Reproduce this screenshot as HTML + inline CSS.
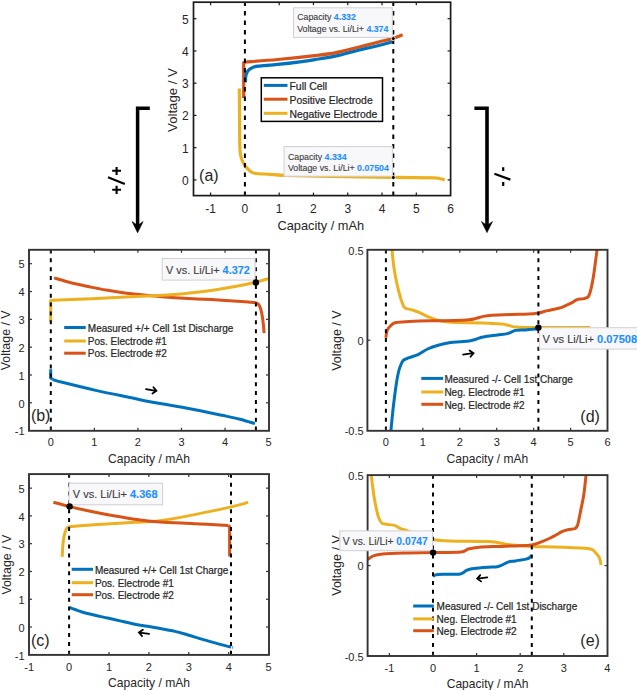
<!DOCTYPE html>
<html><head><meta charset="utf-8"><style>
html,body{margin:0;padding:0;background:#fff;}
svg{display:block;font-family:"Liberation Sans", sans-serif;}
text{stroke-width:0px;}
text.lg{stroke-width:0.22px;}
text.dt{stroke-width:0.12px;}
</style></head><body>
<svg width="637" height="690" viewBox="0 0 637 690">
<rect width="637" height="690" fill="#fff"/>
<clipPath id="ca"><rect x="193.5" y="2.2" width="257.1" height="193.4"/></clipPath>
<g clip-path="url(#ca)">
<path d="M239.3,88.6 C239.35,93.83 239.52,110.6 239.6,120 C239.68,129.4 239.63,139.17 239.8,145 C239.97,150.83 240.02,152.02 240.6,155 C241.18,157.98 241.92,160.4 243.3,162.9 C244.68,165.4 247.03,168.28 248.9,170 C250.77,171.72 250.98,172.48 254.5,173.2 C258.02,173.92 265.08,173.95 270,174.3 C274.92,174.65 274,174.97 284,175.3 C294,175.63 311.8,175.97 330,176.3 C348.2,176.63 375.87,177.03 393.2,177.3 C410.53,177.57 426.2,177.68 434,177.9 C441.8,178.12 438.22,178.27 440,178.6 C441.78,178.93 443.92,179.68 444.7,179.9" fill="none" stroke="#EDB120" stroke-width="3.2" stroke-linejoin="round"/>
<polyline points="243.7,98 243.7,62.8 245.5,62" fill="none" stroke="#D95319" stroke-width="3.2" stroke-linejoin="round" stroke-linecap="butt" />
<path d="M245.5,62 C250.87,61.58 266.12,60.57 277.7,59.5 C289.28,58.43 305.25,56.75 315,55.6 C324.75,54.45 329.13,53.95 336.2,52.6 C343.27,51.25 350.33,49.27 357.4,47.5 C364.47,45.73 372.72,43.52 378.6,42 C384.48,40.48 388.7,39.62 392.7,38.4 C396.7,37.18 400.95,35.32 402.6,34.7" fill="none" stroke="#D95319" stroke-width="3.2" stroke-linejoin="round"/>
<path d="M245.5,82.4 C245.55,81.33 245.47,77.82 245.8,76 C246.13,74.18 246.8,72.67 247.5,71.5 C248.2,70.33 249.15,69.68 250,69 C250.85,68.32 251.27,67.87 252.6,67.4 C253.93,66.93 253.82,66.7 258,66.2 C262.18,65.7 270.7,65.13 277.7,64.4 C284.7,63.67 293.78,62.6 300,61.8 C306.22,61 308.97,60.58 315,59.6 C321.03,58.62 329.13,57.42 336.2,55.9 C343.27,54.38 350.33,52.23 357.4,50.5 C364.47,48.77 372.72,46.97 378.6,45.5 C384.48,44.03 390.35,42.33 392.7,41.7" fill="none" stroke="#0072BD" stroke-width="3.2" stroke-linejoin="round"/>
</g>
<line x1="244.9" y1="2.2" x2="244.9" y2="195.6" stroke="#000" stroke-width="2" stroke-dasharray="4.5 5.0" stroke-dashoffset="0.6"/>
<line x1="393.3" y1="2.2" x2="393.3" y2="195.6" stroke="#000" stroke-width="2" stroke-dasharray="4.5 5.0" stroke-dashoffset="0.6"/>
<line x1="210.62" y1="195.6" x2="210.62" y2="192.6" stroke="#1a1a1a" stroke-width="1.2"/>
<line x1="210.62" y1="2.2" x2="210.62" y2="5.2" stroke="#1a1a1a" stroke-width="1.2"/>
<text x="210.62" y="212.9" font-size="12" text-anchor="middle" fill="#262626" stroke="#262626" font-weight="normal" >-1</text>
<line x1="244.9" y1="195.6" x2="244.9" y2="192.6" stroke="#1a1a1a" stroke-width="1.2"/>
<line x1="244.9" y1="2.2" x2="244.9" y2="5.2" stroke="#1a1a1a" stroke-width="1.2"/>
<text x="244.9" y="212.9" font-size="12" text-anchor="middle" fill="#262626" stroke="#262626" font-weight="normal" >0</text>
<line x1="279.18" y1="195.6" x2="279.18" y2="192.6" stroke="#1a1a1a" stroke-width="1.2"/>
<line x1="279.18" y1="2.2" x2="279.18" y2="5.2" stroke="#1a1a1a" stroke-width="1.2"/>
<text x="279.18" y="212.9" font-size="12" text-anchor="middle" fill="#262626" stroke="#262626" font-weight="normal" >1</text>
<line x1="313.46" y1="195.6" x2="313.46" y2="192.6" stroke="#1a1a1a" stroke-width="1.2"/>
<line x1="313.46" y1="2.2" x2="313.46" y2="5.2" stroke="#1a1a1a" stroke-width="1.2"/>
<text x="313.46" y="212.9" font-size="12" text-anchor="middle" fill="#262626" stroke="#262626" font-weight="normal" >2</text>
<line x1="347.74" y1="195.6" x2="347.74" y2="192.6" stroke="#1a1a1a" stroke-width="1.2"/>
<line x1="347.74" y1="2.2" x2="347.74" y2="5.2" stroke="#1a1a1a" stroke-width="1.2"/>
<text x="347.74" y="212.9" font-size="12" text-anchor="middle" fill="#262626" stroke="#262626" font-weight="normal" >3</text>
<line x1="382.02" y1="195.6" x2="382.02" y2="192.6" stroke="#1a1a1a" stroke-width="1.2"/>
<line x1="382.02" y1="2.2" x2="382.02" y2="5.2" stroke="#1a1a1a" stroke-width="1.2"/>
<text x="382.02" y="212.9" font-size="12" text-anchor="middle" fill="#262626" stroke="#262626" font-weight="normal" >4</text>
<line x1="416.3" y1="195.6" x2="416.3" y2="192.6" stroke="#1a1a1a" stroke-width="1.2"/>
<line x1="416.3" y1="2.2" x2="416.3" y2="5.2" stroke="#1a1a1a" stroke-width="1.2"/>
<text x="416.3" y="212.9" font-size="12" text-anchor="middle" fill="#262626" stroke="#262626" font-weight="normal" >5</text>
<text x="450.58" y="212.9" font-size="12" text-anchor="middle" fill="#262626" stroke="#262626" font-weight="normal" >6</text>
<line x1="193.5" y1="179.9" x2="196.5" y2="179.9" stroke="#1a1a1a" stroke-width="1.2"/>
<line x1="450.6" y1="179.9" x2="447.6" y2="179.9" stroke="#1a1a1a" stroke-width="1.2"/>
<text x="188.6" y="184.9" font-size="12" text-anchor="end" fill="#262626" stroke="#262626" font-weight="normal" >0</text>
<line x1="193.5" y1="147.66" x2="196.5" y2="147.66" stroke="#1a1a1a" stroke-width="1.2"/>
<line x1="450.6" y1="147.66" x2="447.6" y2="147.66" stroke="#1a1a1a" stroke-width="1.2"/>
<text x="188.6" y="152.66" font-size="12" text-anchor="end" fill="#262626" stroke="#262626" font-weight="normal" >1</text>
<line x1="193.5" y1="115.42" x2="196.5" y2="115.42" stroke="#1a1a1a" stroke-width="1.2"/>
<line x1="450.6" y1="115.42" x2="447.6" y2="115.42" stroke="#1a1a1a" stroke-width="1.2"/>
<text x="188.6" y="120.42" font-size="12" text-anchor="end" fill="#262626" stroke="#262626" font-weight="normal" >2</text>
<line x1="193.5" y1="83.18" x2="196.5" y2="83.18" stroke="#1a1a1a" stroke-width="1.2"/>
<line x1="450.6" y1="83.18" x2="447.6" y2="83.18" stroke="#1a1a1a" stroke-width="1.2"/>
<text x="188.6" y="88.18" font-size="12" text-anchor="end" fill="#262626" stroke="#262626" font-weight="normal" >3</text>
<line x1="193.5" y1="50.94" x2="196.5" y2="50.94" stroke="#1a1a1a" stroke-width="1.2"/>
<line x1="450.6" y1="50.94" x2="447.6" y2="50.94" stroke="#1a1a1a" stroke-width="1.2"/>
<text x="188.6" y="55.94" font-size="12" text-anchor="end" fill="#262626" stroke="#262626" font-weight="normal" >4</text>
<line x1="193.5" y1="18.7" x2="196.5" y2="18.7" stroke="#1a1a1a" stroke-width="1.2"/>
<line x1="450.6" y1="18.7" x2="447.6" y2="18.7" stroke="#1a1a1a" stroke-width="1.2"/>
<text x="188.6" y="23.7" font-size="12" text-anchor="end" fill="#262626" stroke="#262626" font-weight="normal" >5</text>
<rect x="193.5" y="2.2" width="257.1" height="193.4" fill="none" stroke="#1a1a1a" stroke-width="1.7"/>
<text x="320.8" y="230.2" font-size="12.8" text-anchor="middle" fill="#262626" stroke="#262626" font-weight="normal" >Capacity / mAh</text>
<text x="0" y="0" font-size="13.2" text-anchor="middle" fill="#262626" stroke="#262626" transform="translate(176.8,100) rotate(-90)">Voltage / V</text>
<rect x="261.3" y="77.8" width="121.2" height="43.6" fill="#fff" stroke="#000" stroke-width="1.5"/>
<line x1="263.8" y1="85.4" x2="287.5" y2="85.4" stroke="#0072BD" stroke-width="3"/>
<text x="289.5" y="89.74" font-size="10.4" text-anchor="start" fill="#262626" stroke="#262626" font-weight="normal" class="lg">Full Cell</text>
<line x1="263.8" y1="99.2" x2="287.5" y2="99.2" stroke="#D95319" stroke-width="3"/>
<text x="289.5" y="103.54" font-size="10.4" text-anchor="start" fill="#262626" stroke="#262626" font-weight="normal" class="lg">Positive Electrode</text>
<line x1="263.8" y1="113.3" x2="287.5" y2="113.3" stroke="#EDB120" stroke-width="3"/>
<text x="289.5" y="117.64" font-size="10.4" text-anchor="start" fill="#262626" stroke="#262626" font-weight="normal" class="lg">Negative Electrode</text>
<rect x="293.5" y="7.8" width="98.8" height="29.6" fill="#f8f8fb" stroke="#d0d0d4" stroke-width="1"/>
<text class="dt" x="297.2" y="20.4" font-size="8.8" fill="#3c3c3c" stroke="#3c3c3c">Capacity <tspan fill="#1e8fff" stroke="#1e8fff" font-weight="bold">4.332</tspan></text>
<text class="dt" x="297.2" y="31.7" font-size="8.8" fill="#3c3c3c" stroke="#3c3c3c">Voltage vs. Li/Li+ <tspan fill="#1e8fff" stroke="#1e8fff" font-weight="bold">4.374</tspan></text>
<circle cx="393.3" cy="38.6" r="2.0" fill="#000" stroke="#fff4d6" stroke-width="0.9"/>
<rect x="284.1" y="146.6" width="108.3" height="29.6" fill="#f8f8fb" stroke="#d0d0d4" stroke-width="1"/>
<text class="dt" x="287.9" y="159.8" font-size="8.8" fill="#3c3c3c" stroke="#3c3c3c">Capacity <tspan fill="#1e8fff" stroke="#1e8fff" font-weight="bold">4.334</tspan></text>
<text class="dt" x="287.9" y="170.7" font-size="8.8" fill="#3c3c3c" stroke="#3c3c3c">Voltage vs. Li/Li+ <tspan fill="#1e8fff" stroke="#1e8fff" font-weight="bold">0.07504</tspan></text>
<circle cx="393.3" cy="177.5" r="2.0" fill="#000" stroke="#fff4d6" stroke-width="0.9"/>
<text x="199.1" y="181.3" font-size="16" text-anchor="start" fill="#262626" stroke="#262626" font-weight="normal" >(a)</text>
<path d="M149.8,108.2 H137.6 V226" fill="none" stroke="#000" stroke-width="3.5"/>
<path d="M132.1,221.6 L137.6,232.8 L143.1,221.6 L137.6,225.5 Z" fill="#000" stroke="#000" stroke-width="0.6" stroke-linejoin="round"/>
<path d="M474.4,108.2 H487.0 V226" fill="none" stroke="#000" stroke-width="3.6"/>
<path d="M481.5,221.6 L487.0,232.6 L492.5,221.6 L487.0,225.5 Z" fill="#000" stroke="#000" stroke-width="0.6" stroke-linejoin="round"/>
<path d="M112.2,170.8 H121 M116.6,166.9 V175 M108,177.3 L124.8,183.9 M112.2,189.8 H121 M116.6,185.8 V193.9" fill="none" stroke="#000" stroke-width="2.1"/>
<path d="M503.2,167.3 V171 M494.4,173.8 L510.4,179.6 M503.2,181.9 V186.1" fill="none" stroke="#000" stroke-width="2.2"/>
<clipPath id="cb"><rect x="29.0" y="249.8" width="240.0" height="181.0"/></clipPath>
<g clip-path="url(#cb)">
<path d="M54.1,277.9 C55.98,278.45 61.08,280.05 65.4,281.2 C69.72,282.35 74.82,283.63 80,284.8 C85.18,285.97 92.13,287.32 96.5,288.2 C100.87,289.08 101.5,289.32 106.2,290.1 C110.9,290.88 119.6,292.2 124.7,292.9 C129.8,293.6 131.38,293.73 136.8,294.3 C142.22,294.87 150.83,295.72 157.2,296.3 C163.57,296.88 166,297.25 175,297.8 C184,298.35 199.53,298.95 211.2,299.6 C222.87,300.25 237.87,301.22 245,301.7 C252.13,302.18 251.92,302.18 254,302.5 C256.08,302.82 256.57,303.02 257.5,303.6 C258.43,304.18 258.98,304.8 259.6,306 C260.22,307.2 260.73,308.97 261.2,310.8 C261.67,312.63 262.05,314.8 262.4,317 C262.75,319.2 263.02,321.3 263.3,324 C263.58,326.7 263.97,331.67 264.1,333.2" fill="none" stroke="#D95319" stroke-width="3.0" stroke-linejoin="round"/>
<polyline points="50.7,322.2 50.7,300.4 52,300.2" fill="none" stroke="#EDB120" stroke-width="3.0" stroke-linejoin="round" stroke-linecap="butt" />
<path d="M52,300.2 C54.23,300.13 56.37,300.17 65.4,299.8 C74.43,299.43 92.6,298.65 106.2,298 C119.8,297.35 135.53,296.5 147,295.9 C158.47,295.3 164.3,295.32 175,294.4 C185.7,293.48 201.2,291.7 211.2,290.4 C221.2,289.1 227.58,287.97 235,286.6 C242.42,285.23 250.1,283.53 255.7,282.2 C261.3,280.87 266.45,279.2 268.6,278.6" fill="none" stroke="#EDB120" stroke-width="3.0" stroke-linejoin="round"/>
<polyline points="50.7,369.3 50.7,378 52.5,379.4" fill="none" stroke="#0072BD" stroke-width="3.0" stroke-linejoin="round" stroke-linecap="butt" />
<path d="M52.5,379.4 C54.13,379.88 54.92,380.43 62.3,382.3 C69.68,384.17 85.28,388.02 96.8,390.6 C108.32,393.18 122.53,395.95 131.4,397.8 C140.27,399.65 140.88,400 150,401.7 C159.12,403.4 174.07,405.73 186.1,408 C198.13,410.27 213.22,413.43 222.2,415.3 C231.18,417.17 234.55,417.82 240,419.2 C245.45,420.58 252.42,422.87 254.9,423.6" fill="none" stroke="#0072BD" stroke-width="3.0" stroke-linejoin="round"/>
</g>
<line x1="50.8" y1="249.8" x2="50.8" y2="430.8" stroke="#000" stroke-width="2" stroke-dasharray="4 4.85" stroke-dashoffset="0.3"/>
<line x1="255.9" y1="249.8" x2="255.9" y2="430.8" stroke="#000" stroke-width="2" stroke-dasharray="4 4.85" stroke-dashoffset="0.3"/>
<line x1="50.8" y1="430.8" x2="50.8" y2="427.8" stroke="#333333" stroke-width="1.2"/>
<line x1="50.8" y1="249.8" x2="50.8" y2="252.8" stroke="#333333" stroke-width="1.2"/>
<text x="50.8" y="446.2" font-size="11" text-anchor="middle" fill="#262626" stroke="#262626" font-weight="normal" >0</text>
<line x1="94.36" y1="430.8" x2="94.36" y2="427.8" stroke="#333333" stroke-width="1.2"/>
<line x1="94.36" y1="249.8" x2="94.36" y2="252.8" stroke="#333333" stroke-width="1.2"/>
<text x="94.36" y="446.2" font-size="11" text-anchor="middle" fill="#262626" stroke="#262626" font-weight="normal" >1</text>
<line x1="137.92" y1="430.8" x2="137.92" y2="427.8" stroke="#333333" stroke-width="1.2"/>
<line x1="137.92" y1="249.8" x2="137.92" y2="252.8" stroke="#333333" stroke-width="1.2"/>
<text x="137.92" y="446.2" font-size="11" text-anchor="middle" fill="#262626" stroke="#262626" font-weight="normal" >2</text>
<line x1="181.48" y1="430.8" x2="181.48" y2="427.8" stroke="#333333" stroke-width="1.2"/>
<line x1="181.48" y1="249.8" x2="181.48" y2="252.8" stroke="#333333" stroke-width="1.2"/>
<text x="181.48" y="446.2" font-size="11" text-anchor="middle" fill="#262626" stroke="#262626" font-weight="normal" >3</text>
<line x1="225.04" y1="430.8" x2="225.04" y2="427.8" stroke="#333333" stroke-width="1.2"/>
<line x1="225.04" y1="249.8" x2="225.04" y2="252.8" stroke="#333333" stroke-width="1.2"/>
<text x="225.04" y="446.2" font-size="11" text-anchor="middle" fill="#262626" stroke="#262626" font-weight="normal" >4</text>
<text x="268.6" y="446.2" font-size="11" text-anchor="middle" fill="#262626" stroke="#262626" font-weight="normal" >5</text>
<text x="24.6" y="435.36" font-size="11" text-anchor="end" fill="#262626" stroke="#262626" font-weight="normal" >-1</text>
<line x1="29" y1="402.8" x2="32" y2="402.8" stroke="#333333" stroke-width="1.2"/>
<line x1="269" y1="402.8" x2="266" y2="402.8" stroke="#333333" stroke-width="1.2"/>
<text x="24.6" y="407.54" font-size="11" text-anchor="end" fill="#262626" stroke="#262626" font-weight="normal" >0</text>
<line x1="29" y1="374.98" x2="32" y2="374.98" stroke="#333333" stroke-width="1.2"/>
<line x1="269" y1="374.98" x2="266" y2="374.98" stroke="#333333" stroke-width="1.2"/>
<text x="24.6" y="379.72" font-size="11" text-anchor="end" fill="#262626" stroke="#262626" font-weight="normal" >1</text>
<line x1="29" y1="347.16" x2="32" y2="347.16" stroke="#333333" stroke-width="1.2"/>
<line x1="269" y1="347.16" x2="266" y2="347.16" stroke="#333333" stroke-width="1.2"/>
<text x="24.6" y="351.9" font-size="11" text-anchor="end" fill="#262626" stroke="#262626" font-weight="normal" >2</text>
<line x1="29" y1="319.34" x2="32" y2="319.34" stroke="#333333" stroke-width="1.2"/>
<line x1="269" y1="319.34" x2="266" y2="319.34" stroke="#333333" stroke-width="1.2"/>
<text x="24.6" y="324.08" font-size="11" text-anchor="end" fill="#262626" stroke="#262626" font-weight="normal" >3</text>
<line x1="29" y1="291.52" x2="32" y2="291.52" stroke="#333333" stroke-width="1.2"/>
<line x1="269" y1="291.52" x2="266" y2="291.52" stroke="#333333" stroke-width="1.2"/>
<text x="24.6" y="296.26" font-size="11" text-anchor="end" fill="#262626" stroke="#262626" font-weight="normal" >4</text>
<line x1="29" y1="263.7" x2="32" y2="263.7" stroke="#333333" stroke-width="1.2"/>
<line x1="269" y1="263.7" x2="266" y2="263.7" stroke="#333333" stroke-width="1.2"/>
<text x="24.6" y="268.44" font-size="11" text-anchor="end" fill="#262626" stroke="#262626" font-weight="normal" >5</text>
<rect x="29" y="249.8" width="240" height="181" fill="none" stroke="#333333" stroke-width="1.9"/>
<text x="149" y="462.5" font-size="12.1" text-anchor="middle" fill="#262626" stroke="#262626" font-weight="normal" >Capacity / mAh</text>
<text x="0" y="0" font-size="12.4" text-anchor="middle" fill="#262626" stroke="#262626" transform="translate(10.2,340.35) rotate(-90)">Voltage / V</text>
<line x1="64.2" y1="327.5" x2="85.7" y2="327.5" stroke="#0072BD" stroke-width="3"/>
<text x="87.8" y="331.7" font-size="10" text-anchor="start" fill="#262626" stroke="#262626" font-weight="normal" class="lg">Measured +/+ Cell 1st Discharge</text>
<line x1="64.2" y1="341" x2="85.7" y2="341" stroke="#EDB120" stroke-width="3"/>
<text x="87.8" y="345.2" font-size="10" text-anchor="start" fill="#262626" stroke="#262626" font-weight="normal" class="lg">Pos. Electrode #1</text>
<line x1="64.2" y1="353.2" x2="85.7" y2="353.2" stroke="#D95319" stroke-width="3"/>
<text x="87.8" y="357.4" font-size="10" text-anchor="start" fill="#262626" stroke="#262626" font-weight="normal" class="lg">Pos. Electrode #2</text>
<rect x="162.2" y="258.5" width="92.9" height="21.6" fill="#f8f8fb" stroke="#d0d0d4" stroke-width="1"/>
<text class="dt" x="166" y="274.3" font-size="10.9" fill="#3c3c3c" stroke="#3c3c3c">V vs. Li/Li+ <tspan fill="#1e8fff" stroke="#1e8fff" font-weight="bold">4.372</tspan></text>
<circle cx="255.9" cy="282.4" r="3.2" fill="#000"/>
<path d="M146,389.2 L155.61,390.77 M153.46,387.23 L156.4,390.9 L152.45,393.44" fill="none" stroke="#000" stroke-width="1.8" stroke-linejoin="miter" stroke-linecap="round"/>
<text x="30.9" y="421.3" font-size="16" text-anchor="start" fill="#262626" stroke="#262626" font-weight="normal" >(b)</text>
<clipPath id="cc"><rect x="29.0" y="474.1" width="240.0" height="180.79999999999995"/></clipPath>
<g clip-path="url(#cc)">
<path d="M62.2,556.9 C62.3,555.08 62.57,548.98 62.8,546 C63.03,543.02 63.23,541.25 63.6,539 C63.97,536.75 64.5,534.23 65,532.5 C65.5,530.77 65.85,529.57 66.6,528.6 C67.35,527.63 67.27,527.17 69.5,526.7 C71.73,526.23 73.83,526.27 80,525.8 C86.17,525.33 97.38,524.48 106.5,523.9 C115.62,523.32 125.78,522.83 134.7,522.3 C143.62,521.77 150.03,521.98 160,520.7 C169.97,519.42 182.98,516.82 194.5,514.6 C206.02,512.38 220.17,509.43 229.1,507.4 C238.03,505.37 244.93,503.23 248.1,502.4" fill="none" stroke="#EDB120" stroke-width="3.0" stroke-linejoin="round"/>
<path d="M53.4,502.2 C55.97,502.9 63.03,504.97 68.8,506.4 C74.57,507.83 81.72,509.45 88,510.8 C94.28,512.15 98.72,513.1 106.5,514.5 C114.28,515.9 125.78,517.95 134.7,519.2 C143.62,520.45 150.03,521.25 160,522 C169.97,522.75 183.13,523.1 194.5,523.7 C205.87,524.3 222.58,525.28 228.2,525.6" fill="none" stroke="#D95319" stroke-width="3.0" stroke-linejoin="round"/>
<polyline points="228.2,525.6 229.6,526.5 229.6,556.5" fill="none" stroke="#D95319" stroke-width="3.0" stroke-linejoin="round" stroke-linecap="butt" />
<path d="M69.6,607.4 C70.5,607.75 72.93,608.73 75,609.5 C77.07,610.27 78.67,611.03 82,612 C85.33,612.97 90.73,614.3 95,615.3 C99.27,616.3 103.42,617.07 107.6,618 C111.78,618.93 115.92,619.95 120.1,620.9 C124.28,621.85 128.5,622.85 132.7,623.7 C136.9,624.55 141.12,625.27 145.3,626 C149.48,626.73 152.85,627.2 157.8,628.1 C162.75,629 170.07,630.28 175,631.4 C179.93,632.52 181.8,633.18 187.4,634.8 C193,636.42 201.55,639.1 208.6,641.1 C215.65,643.1 225.97,645.78 229.7,646.8 C233.43,647.82 230.78,647.13 231,647.2" fill="none" stroke="#0072BD" stroke-width="3.0" stroke-linejoin="round"/>
</g>
<line x1="69.1" y1="474.1" x2="69.1" y2="654.9" stroke="#000" stroke-width="2" stroke-dasharray="4 4.85" stroke-dashoffset="0.3"/>
<line x1="231" y1="474.1" x2="231" y2="654.9" stroke="#000" stroke-width="2" stroke-dasharray="4 4.85" stroke-dashoffset="0.3"/>
<text x="29.2" y="670.8" font-size="11" text-anchor="middle" fill="#262626" stroke="#262626" font-weight="normal" >-1</text>
<line x1="69.1" y1="654.9" x2="69.1" y2="651.9" stroke="#333333" stroke-width="1.2"/>
<line x1="69.1" y1="474.1" x2="69.1" y2="477.1" stroke="#333333" stroke-width="1.2"/>
<text x="69.1" y="670.8" font-size="11" text-anchor="middle" fill="#262626" stroke="#262626" font-weight="normal" >0</text>
<line x1="109" y1="654.9" x2="109" y2="651.9" stroke="#333333" stroke-width="1.2"/>
<line x1="109" y1="474.1" x2="109" y2="477.1" stroke="#333333" stroke-width="1.2"/>
<text x="109" y="670.8" font-size="11" text-anchor="middle" fill="#262626" stroke="#262626" font-weight="normal" >1</text>
<line x1="148.9" y1="654.9" x2="148.9" y2="651.9" stroke="#333333" stroke-width="1.2"/>
<line x1="148.9" y1="474.1" x2="148.9" y2="477.1" stroke="#333333" stroke-width="1.2"/>
<text x="148.9" y="670.8" font-size="11" text-anchor="middle" fill="#262626" stroke="#262626" font-weight="normal" >2</text>
<line x1="188.8" y1="654.9" x2="188.8" y2="651.9" stroke="#333333" stroke-width="1.2"/>
<line x1="188.8" y1="474.1" x2="188.8" y2="477.1" stroke="#333333" stroke-width="1.2"/>
<text x="188.8" y="670.8" font-size="11" text-anchor="middle" fill="#262626" stroke="#262626" font-weight="normal" >3</text>
<line x1="228.7" y1="654.9" x2="228.7" y2="651.9" stroke="#333333" stroke-width="1.2"/>
<line x1="228.7" y1="474.1" x2="228.7" y2="477.1" stroke="#333333" stroke-width="1.2"/>
<text x="228.7" y="670.8" font-size="11" text-anchor="middle" fill="#262626" stroke="#262626" font-weight="normal" >4</text>
<text x="268.6" y="670.8" font-size="11" text-anchor="middle" fill="#262626" stroke="#262626" font-weight="normal" >5</text>
<text x="24.6" y="659.51" font-size="11" text-anchor="end" fill="#262626" stroke="#262626" font-weight="normal" >-1</text>
<line x1="29" y1="627" x2="32" y2="627" stroke="#333333" stroke-width="1.2"/>
<line x1="269" y1="627" x2="266" y2="627" stroke="#333333" stroke-width="1.2"/>
<text x="24.6" y="631.74" font-size="11" text-anchor="end" fill="#262626" stroke="#262626" font-weight="normal" >0</text>
<line x1="29" y1="599.23" x2="32" y2="599.23" stroke="#333333" stroke-width="1.2"/>
<line x1="269" y1="599.23" x2="266" y2="599.23" stroke="#333333" stroke-width="1.2"/>
<text x="24.6" y="603.97" font-size="11" text-anchor="end" fill="#262626" stroke="#262626" font-weight="normal" >1</text>
<line x1="29" y1="571.46" x2="32" y2="571.46" stroke="#333333" stroke-width="1.2"/>
<line x1="269" y1="571.46" x2="266" y2="571.46" stroke="#333333" stroke-width="1.2"/>
<text x="24.6" y="576.2" font-size="11" text-anchor="end" fill="#262626" stroke="#262626" font-weight="normal" >2</text>
<line x1="29" y1="543.69" x2="32" y2="543.69" stroke="#333333" stroke-width="1.2"/>
<line x1="269" y1="543.69" x2="266" y2="543.69" stroke="#333333" stroke-width="1.2"/>
<text x="24.6" y="548.43" font-size="11" text-anchor="end" fill="#262626" stroke="#262626" font-weight="normal" >3</text>
<line x1="29" y1="515.92" x2="32" y2="515.92" stroke="#333333" stroke-width="1.2"/>
<line x1="269" y1="515.92" x2="266" y2="515.92" stroke="#333333" stroke-width="1.2"/>
<text x="24.6" y="520.66" font-size="11" text-anchor="end" fill="#262626" stroke="#262626" font-weight="normal" >4</text>
<line x1="29" y1="488.15" x2="32" y2="488.15" stroke="#333333" stroke-width="1.2"/>
<line x1="269" y1="488.15" x2="266" y2="488.15" stroke="#333333" stroke-width="1.2"/>
<text x="24.6" y="492.89" font-size="11" text-anchor="end" fill="#262626" stroke="#262626" font-weight="normal" >5</text>
<rect x="29" y="474.1" width="240" height="180.8" fill="none" stroke="#333333" stroke-width="1.9"/>
<text x="149" y="686.9" font-size="12.1" text-anchor="middle" fill="#262626" stroke="#262626" font-weight="normal" >Capacity / mAh</text>
<text x="0" y="0" font-size="12.4" text-anchor="middle" fill="#262626" stroke="#262626" transform="translate(10.6,564.65) rotate(-90)">Voltage / V</text>
<line x1="71.7" y1="569.3" x2="93" y2="569.3" stroke="#0072BD" stroke-width="3"/>
<text x="94.9" y="573.5" font-size="10" text-anchor="start" fill="#262626" stroke="#262626" font-weight="normal" class="lg">Measured +/+ Cell 1st Charge</text>
<line x1="71.7" y1="582.7" x2="93" y2="582.7" stroke="#EDB120" stroke-width="3"/>
<text x="94.9" y="586.9" font-size="10" text-anchor="start" fill="#262626" stroke="#262626" font-weight="normal" class="lg">Pos. Electrode #1</text>
<line x1="71.7" y1="594.7" x2="93" y2="594.7" stroke="#D95319" stroke-width="3"/>
<text x="94.9" y="598.9" font-size="10" text-anchor="start" fill="#262626" stroke="#262626" font-weight="normal" class="lg">Pos. Electrode #2</text>
<rect x="69" y="483.2" width="93.6" height="21.6" fill="#f8f8fb" stroke="#d0d0d4" stroke-width="1"/>
<text class="dt" x="72.8" y="498.2" font-size="11" fill="#3c3c3c" stroke="#3c3c3c">V vs. Li/Li+ <tspan fill="#1e8fff" stroke="#1e8fff" font-weight="bold">4.368</tspan></text>
<circle cx="69.6" cy="506.4" r="3.2" fill="#000"/>
<path d="M149.1,633.8 L139.79,632.6 M142.06,636.07 L139,632.5 L142.87,629.83" fill="none" stroke="#000" stroke-width="1.8" stroke-linejoin="miter" stroke-linecap="round"/>
<text x="30.9" y="645.5" font-size="16" text-anchor="start" fill="#262626" stroke="#262626" font-weight="normal" >(c)</text>
<clipPath id="cd"><rect x="367.4" y="249.8" width="240.10000000000002" height="181.0"/></clipPath>
<g clip-path="url(#cd)">
<path d="M391.8,248 C392.13,251.12 392.98,260.92 393.8,266.7 C394.62,272.48 395.62,277.62 396.7,282.7 C397.78,287.78 399.35,293.77 400.3,297.2 C401.25,300.63 401.78,301.68 402.4,303.3 C403.02,304.92 403.35,306.02 404,306.9 C404.65,307.78 404.75,308.05 406.3,308.6 C407.85,309.15 411.17,309.57 413.3,310.2 C415.43,310.83 416.68,311.32 419.1,312.4 C421.52,313.48 424.65,315.37 427.8,316.7 C430.95,318.03 434.85,319.55 438,320.4 C441.15,321.25 443.87,321.43 446.7,321.8 C449.53,322.17 448.92,322.42 455,322.6 C461.08,322.78 475.43,322.67 483.2,322.9 C490.97,323.13 497.35,323.58 501.6,324 C505.85,324.42 506.35,324.88 508.7,325.4 C511.05,325.92 512.88,326.75 515.7,327.1 C518.52,327.45 521.83,327.43 525.6,327.5 C529.37,327.57 527.57,327.5 538.3,327.5 C549.03,327.5 581.38,327.5 590,327.5" fill="none" stroke="#EDB120" stroke-width="3.0" stroke-linejoin="round"/>
<path d="M385.8,337.8 C386.03,336.58 386.35,332.57 387.2,330.5 C388.05,328.43 389.45,326.73 390.9,325.4 C392.35,324.07 392.88,323.15 395.9,322.5 C398.92,321.85 403.2,321.78 409,321.5 C414.8,321.22 423.03,320.95 430.7,320.8 C438.37,320.65 448.6,320.77 455,320.6 C461.4,320.43 465.57,320.17 469.1,319.8 C472.63,319.43 473.85,318.97 476.2,318.4 C478.55,317.83 480.62,316.92 483.2,316.4 C485.78,315.88 486.98,315.62 491.7,315.3 C496.42,314.98 505.38,314.7 511.5,314.5 C517.62,314.3 523.93,314.35 528.4,314.1 C532.87,313.85 535.53,313.47 538.3,313 C541.07,312.53 542.78,311.83 545,311.3 C547.22,310.77 548.8,310.47 551.6,309.8 C554.4,309.13 558.4,308.48 561.8,307.3 C565.2,306.12 569.55,303.95 572,302.7 C574.45,301.45 574.5,300.48 576.5,299.8 C578.5,299.12 582.02,299.15 584,298.6 C585.98,298.05 587.23,298.1 588.4,296.5 C589.57,294.9 590.15,292.42 591,289 C591.85,285.58 592.78,280.33 593.5,276 C594.22,271.67 594.67,267.67 595.3,263 C595.93,258.33 596.97,250.5 597.3,248" fill="none" stroke="#D95319" stroke-width="3.0" stroke-linejoin="round"/>
<path d="M390.7,433 C391.15,428.5 392.45,414.3 393.4,406 C394.35,397.7 395.55,388.87 396.4,383.2 C397.25,377.53 397.87,374.78 398.5,372 C399.13,369.22 399.4,368.43 400.2,366.5 C401,364.57 401.78,361.87 403.3,360.4 C404.82,358.93 406.77,358.72 409.3,357.7 C411.83,356.68 415.45,355.75 418.5,354.3 C421.55,352.85 424.32,350.52 427.6,349 C430.88,347.48 434.4,346.27 438.2,345.2 C442,344.13 446.77,343.17 450.4,342.6 C454.03,342.03 456.88,342.07 460,341.8 C463.12,341.53 466.43,341.43 469.1,341 C471.77,340.57 473.65,339.87 476,339.2 C478.35,338.53 479.63,337.7 483.2,337 C486.77,336.3 493.38,335.57 497.4,335 C501.42,334.43 504.25,334.37 507.3,333.6 C510.35,332.83 512.65,331.02 515.7,330.4 C518.75,329.78 521.83,330.18 525.6,329.9 C529.37,329.62 536.18,328.9 538.3,328.7" fill="none" stroke="#0072BD" stroke-width="3.0" stroke-linejoin="round"/>
</g>
<line x1="385.9" y1="249.8" x2="385.9" y2="430.8" stroke="#000" stroke-width="2" stroke-dasharray="4 4.85" stroke-dashoffset="0.3"/>
<line x1="538.4" y1="249.8" x2="538.4" y2="430.8" stroke="#000" stroke-width="2" stroke-dasharray="4 4.85" stroke-dashoffset="0.3"/>
<line x1="385.9" y1="430.8" x2="385.9" y2="427.8" stroke="#333333" stroke-width="1.2"/>
<line x1="385.9" y1="249.8" x2="385.9" y2="252.8" stroke="#333333" stroke-width="1.2"/>
<text x="385.9" y="446.4" font-size="11" text-anchor="middle" fill="#262626" stroke="#262626" font-weight="normal" >0</text>
<line x1="422.84" y1="430.8" x2="422.84" y2="427.8" stroke="#333333" stroke-width="1.2"/>
<line x1="422.84" y1="249.8" x2="422.84" y2="252.8" stroke="#333333" stroke-width="1.2"/>
<text x="422.84" y="446.4" font-size="11" text-anchor="middle" fill="#262626" stroke="#262626" font-weight="normal" >1</text>
<line x1="459.78" y1="430.8" x2="459.78" y2="427.8" stroke="#333333" stroke-width="1.2"/>
<line x1="459.78" y1="249.8" x2="459.78" y2="252.8" stroke="#333333" stroke-width="1.2"/>
<text x="459.78" y="446.4" font-size="11" text-anchor="middle" fill="#262626" stroke="#262626" font-weight="normal" >2</text>
<line x1="496.72" y1="430.8" x2="496.72" y2="427.8" stroke="#333333" stroke-width="1.2"/>
<line x1="496.72" y1="249.8" x2="496.72" y2="252.8" stroke="#333333" stroke-width="1.2"/>
<text x="496.72" y="446.4" font-size="11" text-anchor="middle" fill="#262626" stroke="#262626" font-weight="normal" >3</text>
<line x1="533.66" y1="430.8" x2="533.66" y2="427.8" stroke="#333333" stroke-width="1.2"/>
<line x1="533.66" y1="249.8" x2="533.66" y2="252.8" stroke="#333333" stroke-width="1.2"/>
<text x="533.66" y="446.4" font-size="11" text-anchor="middle" fill="#262626" stroke="#262626" font-weight="normal" >4</text>
<line x1="570.6" y1="430.8" x2="570.6" y2="427.8" stroke="#333333" stroke-width="1.2"/>
<line x1="570.6" y1="249.8" x2="570.6" y2="252.8" stroke="#333333" stroke-width="1.2"/>
<text x="570.6" y="446.4" font-size="11" text-anchor="middle" fill="#262626" stroke="#262626" font-weight="normal" >5</text>
<text x="607.54" y="446.4" font-size="11" text-anchor="middle" fill="#262626" stroke="#262626" font-weight="normal" >6</text>
<text x="363.6" y="435.34" font-size="11" text-anchor="end" fill="#262626" stroke="#262626" font-weight="normal" >-0.5</text>
<line x1="367.4" y1="340.2" x2="370.4" y2="340.2" stroke="#333333" stroke-width="1.2"/>
<line x1="607.5" y1="340.2" x2="604.5" y2="340.2" stroke="#333333" stroke-width="1.2"/>
<text x="363.6" y="344.94" font-size="11" text-anchor="end" fill="#262626" stroke="#262626" font-weight="normal" >0</text>
<text x="363.6" y="254.54" font-size="11" text-anchor="end" fill="#262626" stroke="#262626" font-weight="normal" >0.5</text>
<rect x="367.4" y="249.8" width="240.1" height="181" fill="none" stroke="#333333" stroke-width="1.9"/>
<text x="487.45" y="462.9" font-size="12.05" text-anchor="middle" fill="#262626" stroke="#262626" font-weight="normal" >Capacity / mAh</text>
<text x="0" y="0" font-size="12.5" text-anchor="middle" fill="#262626" stroke="#262626" transform="translate(340.8,340.6) rotate(-90)">Voltage / V</text>
<line x1="421.3" y1="378.4" x2="443.2" y2="378.4" stroke="#0072BD" stroke-width="3"/>
<text x="444.4" y="382.6" font-size="10" text-anchor="start" fill="#262626" stroke="#262626" font-weight="normal" class="lg">Measured -/- Cell 1st Charge</text>
<line x1="421.3" y1="392" x2="443.2" y2="392" stroke="#EDB120" stroke-width="3"/>
<text x="444.4" y="396.2" font-size="10" text-anchor="start" fill="#262626" stroke="#262626" font-weight="normal" class="lg">Neg. Electrode #1</text>
<line x1="421.3" y1="404.3" x2="443.2" y2="404.3" stroke="#D95319" stroke-width="3"/>
<text x="444.4" y="408.5" font-size="10" text-anchor="start" fill="#262626" stroke="#262626" font-weight="normal" class="lg">Neg. Electrode #2</text>
<rect x="539.3" y="327.7" width="110.7" height="21.4" fill="#f8f8fb" stroke="#d0d0d4" stroke-width="1"/>
<text class="dt" x="542.5" y="342.5" font-size="11.1" fill="#3c3c3c" stroke="#3c3c3c">V vs Li/Li+ <tspan fill="#1e8fff" stroke="#1e8fff" font-weight="bold">0.07508</tspan></text>
<circle cx="538.4" cy="327.6" r="3.2" fill="#000"/>
<path d="M463.1,354.7 L472.71,353.22 M469.57,350.52 L473.5,353.1 L470.53,356.74" fill="none" stroke="#000" stroke-width="1.8" stroke-linejoin="miter" stroke-linecap="round"/>
<text x="580.3" y="422.3" font-size="16" text-anchor="start" fill="#262626" stroke="#262626" font-weight="normal" >(d)</text>
<clipPath id="ce"><rect x="367.6" y="475.1" width="239.89999999999998" height="180.89999999999998"/></clipPath>
<g clip-path="url(#ce)">
<path d="M371,473 C371.5,476.9 372.98,489.88 374,496.4 C375.02,502.92 376.23,508.33 377.1,512.1 C377.97,515.87 378.42,517.17 379.2,519 C379.98,520.83 380.58,522.22 381.8,523.1 C383.02,523.98 384.4,523.92 386.5,524.3 C388.6,524.68 392.05,524.68 394.4,525.4 C396.75,526.12 398.52,527.73 400.6,528.6 C402.68,529.47 403.67,529.45 406.9,530.6 C410.13,531.75 415.68,534.03 420,535.5 C424.32,536.97 427.82,538.5 432.8,539.4 C437.78,540.3 440.58,540.55 449.9,540.9 C459.22,541.25 479.92,541.07 488.7,541.5 C497.48,541.93 499.12,542.95 502.6,543.5 C506.08,544.05 504.72,544.3 509.6,544.8 C514.48,545.3 524.45,546.15 531.9,546.5 C539.35,546.85 545.43,546.6 554.3,546.9 C563.17,547.2 578.77,547.83 585.1,548.3 C591.43,548.77 590.37,548.75 592.3,549.7 C594.23,550.65 595.48,552.55 596.7,554 C597.92,555.45 598.87,556.57 599.6,558.4 C600.33,560.23 600.85,563.9 601.1,565" fill="none" stroke="#EDB120" stroke-width="3.0" stroke-linejoin="round"/>
<path d="M367.7,559.5 C368.63,558.88 370.8,556.73 373.3,555.8 C375.8,554.87 377.37,554.37 382.7,553.9 C388.03,553.43 396.9,553.22 405.3,553 C413.7,552.78 423.8,552.78 433.1,552.6 C442.4,552.42 455.23,552.5 461.1,551.9 C466.97,551.3 465.28,549.78 468.3,549 C471.32,548.22 474.38,547.63 479.2,547.2 C484.02,546.77 491.18,546.62 497.2,546.4 C503.22,546.18 509.58,546.13 515.3,545.9 C521.02,545.67 527.37,545.58 531.5,545 C535.63,544.42 536.97,543.57 540.1,542.4 C543.23,541.23 547.65,539.23 550.3,538 C552.95,536.77 554.07,536.07 556,535 C557.93,533.93 559.95,532.48 561.9,531.6 C563.85,530.72 565.53,530.2 567.7,529.7 C569.87,529.2 573.38,529.13 574.9,528.6 C576.42,528.07 576.28,527.33 576.8,526.5 C577.32,525.67 577.35,526.25 578,523.6 C578.65,520.95 579.77,515.18 580.7,510.6 C581.63,506.02 582.85,500.7 583.6,496.1 C584.35,491.5 584.77,486.85 585.2,483 C585.63,479.15 586.03,474.67 586.2,473" fill="none" stroke="#D95319" stroke-width="3.0" stroke-linejoin="round"/>
<path d="M433.1,576.6 C433.55,576.3 434.15,575.2 435.8,574.8 C437.45,574.4 438.93,574.35 443,574.2 C447.07,574.05 456.28,574.55 460.2,573.9 C464.12,573.25 464.55,571.15 466.5,570.3 C468.45,569.45 469.78,569.2 471.9,568.8 C474.02,568.4 476.48,568.17 479.2,567.9 C481.92,567.63 485.2,567.4 488.2,567.2 C491.2,567 494.95,567.03 497.2,566.7 C499.45,566.37 499.9,565.97 501.7,565.2 C503.5,564.43 505.73,562.82 508,562.1 C510.27,561.38 512.28,561.4 515.3,560.9 C518.32,560.4 523.7,559.65 526.1,559.1 C528.5,558.55 528.8,558.23 529.7,557.6 C530.6,556.97 531.2,555.68 531.5,555.3" fill="none" stroke="#0072BD" stroke-width="3.0" stroke-linejoin="round"/>
</g>
<line x1="433" y1="475.1" x2="433" y2="656" stroke="#000" stroke-width="2" stroke-dasharray="4 4.85" stroke-dashoffset="0.3"/>
<line x1="531.8" y1="475.1" x2="531.8" y2="656" stroke="#000" stroke-width="2" stroke-dasharray="4 4.85" stroke-dashoffset="0.3"/>
<line x1="389.4" y1="656" x2="389.4" y2="653" stroke="#333333" stroke-width="1.2"/>
<line x1="389.4" y1="475.1" x2="389.4" y2="478.1" stroke="#333333" stroke-width="1.2"/>
<text x="389.4" y="672.4" font-size="11" text-anchor="middle" fill="#262626" stroke="#262626" font-weight="normal" >-1</text>
<line x1="433" y1="656" x2="433" y2="653" stroke="#333333" stroke-width="1.2"/>
<line x1="433" y1="475.1" x2="433" y2="478.1" stroke="#333333" stroke-width="1.2"/>
<text x="433" y="672.4" font-size="11" text-anchor="middle" fill="#262626" stroke="#262626" font-weight="normal" >0</text>
<line x1="476.6" y1="656" x2="476.6" y2="653" stroke="#333333" stroke-width="1.2"/>
<line x1="476.6" y1="475.1" x2="476.6" y2="478.1" stroke="#333333" stroke-width="1.2"/>
<text x="476.6" y="672.4" font-size="11" text-anchor="middle" fill="#262626" stroke="#262626" font-weight="normal" >1</text>
<line x1="520.2" y1="656" x2="520.2" y2="653" stroke="#333333" stroke-width="1.2"/>
<line x1="520.2" y1="475.1" x2="520.2" y2="478.1" stroke="#333333" stroke-width="1.2"/>
<text x="520.2" y="672.4" font-size="11" text-anchor="middle" fill="#262626" stroke="#262626" font-weight="normal" >2</text>
<line x1="563.8" y1="656" x2="563.8" y2="653" stroke="#333333" stroke-width="1.2"/>
<line x1="563.8" y1="475.1" x2="563.8" y2="478.1" stroke="#333333" stroke-width="1.2"/>
<text x="563.8" y="672.4" font-size="11" text-anchor="middle" fill="#262626" stroke="#262626" font-weight="normal" >3</text>
<text x="607.4" y="672.4" font-size="11" text-anchor="middle" fill="#262626" stroke="#262626" font-weight="normal" >4</text>
<text x="363.6" y="660.74" font-size="11" text-anchor="end" fill="#262626" stroke="#262626" font-weight="normal" >-0.5</text>
<line x1="367.6" y1="565.55" x2="370.6" y2="565.55" stroke="#333333" stroke-width="1.2"/>
<line x1="607.5" y1="565.55" x2="604.5" y2="565.55" stroke="#333333" stroke-width="1.2"/>
<text x="363.6" y="570.29" font-size="11" text-anchor="end" fill="#262626" stroke="#262626" font-weight="normal" >0</text>
<text x="363.6" y="479.84" font-size="11" text-anchor="end" fill="#262626" stroke="#262626" font-weight="normal" >0.5</text>
<rect x="367.6" y="475.1" width="239.9" height="180.9" fill="none" stroke="#333333" stroke-width="1.9"/>
<text x="487.55" y="687.9" font-size="12.05" text-anchor="middle" fill="#262626" stroke="#262626" font-weight="normal" >Capacity / mAh</text>
<text x="0" y="0" font-size="12.5" text-anchor="middle" fill="#262626" stroke="#262626" transform="translate(340.8,565.5) rotate(-90)">Voltage / V</text>
<line x1="413.2" y1="606" x2="433.8" y2="606" stroke="#0072BD" stroke-width="3"/>
<text x="436.6" y="610.2" font-size="10" text-anchor="start" fill="#262626" stroke="#262626" font-weight="normal" class="lg">Measured -/- Cell 1st Discharge</text>
<line x1="413.2" y1="618.9" x2="433.8" y2="618.9" stroke="#EDB120" stroke-width="3"/>
<text x="436.6" y="623.1" font-size="10" text-anchor="start" fill="#262626" stroke="#262626" font-weight="normal" class="lg">Neg. Electrode #1</text>
<line x1="413.2" y1="630.7" x2="433.8" y2="630.7" stroke="#D95319" stroke-width="3"/>
<text x="436.6" y="634.9" font-size="10" text-anchor="start" fill="#262626" stroke="#262626" font-weight="normal" class="lg">Neg. Electrode #2</text>
<rect x="339.8" y="530.9" width="92.8" height="19.8" fill="#f8f8fb" stroke="#d0d0d4" stroke-width="1"/>
<text class="dt" x="342.8" y="545" font-size="10.3" fill="#3c3c3c" stroke="#3c3c3c">V vs. Li/Li+ <tspan fill="#1e8fff" stroke="#1e8fff" font-weight="bold">0.0747</tspan></text>
<circle cx="433.1" cy="552.6" r="3.2" fill="#000"/>
<path d="M487.3,577.4 L477.99,578.6 M481.07,581.37 L477.2,578.7 L480.26,575.13" fill="none" stroke="#000" stroke-width="1.8" stroke-linejoin="miter" stroke-linecap="round"/>
<text x="580.3" y="645.5" font-size="16" text-anchor="start" fill="#262626" stroke="#262626" font-weight="normal" >(e)</text>
</svg>
</body></html>
